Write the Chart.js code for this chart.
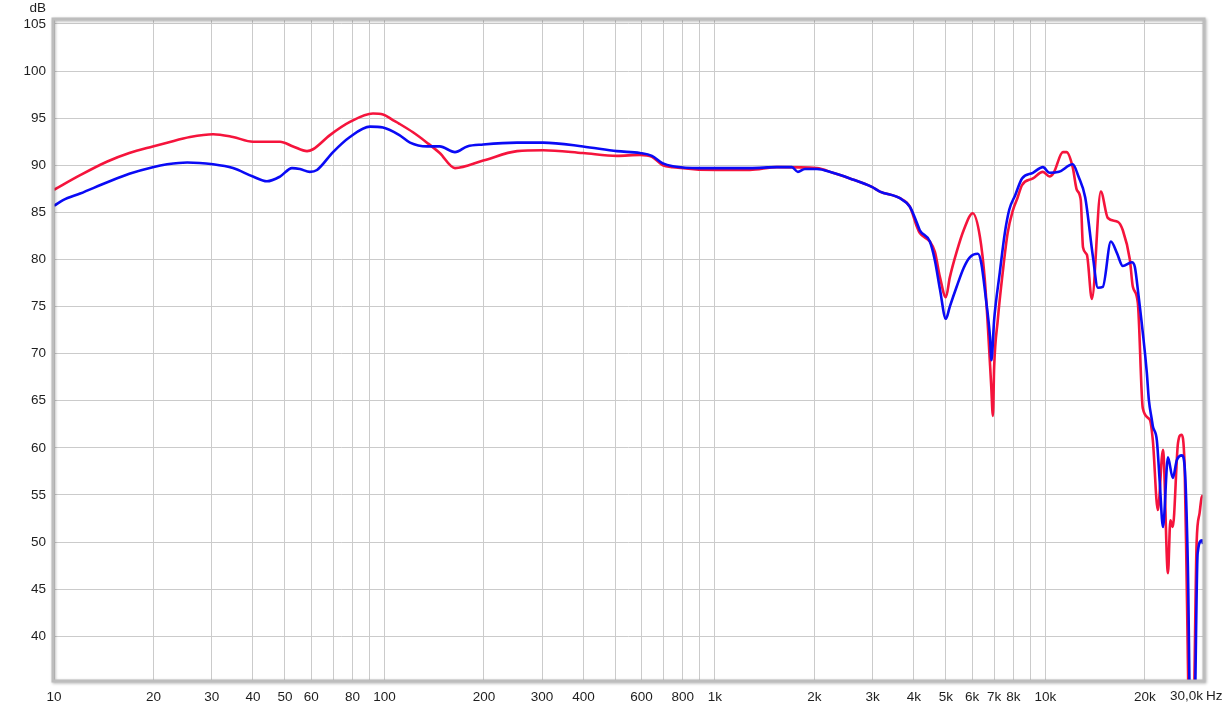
<!DOCTYPE html>
<html>
<head>
<meta charset="utf-8">
<script src="https://cdn.jsdelivr.net/npm/chart.js@4.4.1/dist/chart.umd.min.js"></script>
<style>
html,body{margin:0;padding:0;background:#ffffff;}
#wrap{width:1228px;height:709px;position:relative;}
</style>
</head>
<body>
<div id="wrap"><canvas id="c" width="1228" height="709"></canvas></div>
<script>
// ---- data ----
const freqBlue = [10, 10.65, 12, 14.5, 16.9, 19.9, 22, 25.3, 30.3, 34.8, 40, 44.1, 48.3, 52.5, 55.5, 59.5, 62.5, 69.9, 78.6, 90.4, 99, 111, 119.5, 134.5, 147, 163.5, 178, 199, 252, 302, 399, 505, 593, 645, 696, 746, 901, 1276, 1540, 1710, 1783, 1873, 2035, 2275, 2562, 2985, 3157, 3629, 3890, 4085, 4170, 4472, 4632, 4800, 5000, 5140, 5390, 5660, 5900, 6250, 6400, 6600, 6800, 6870, 7000, 7280, 7540, 7780, 8100, 8500, 9170, 9830, 10300, 11000, 12100, 12600, 13200, 13930, 14420, 14930, 15790, 16460, 17160, 18270, 18660, 19050, 20280, 20570, 21000, 21150, 21750, 22200, 22700, 23500, 24300, 25000, 25900, 26400, 27000, 27500, 28200, 28900, 29800, 30000];
const splBlue = [85.7, 86.3, 87.0, 88.2, 89.1, 89.8, 90.1, 90.3, 90.1, 89.7, 88.8, 88.3, 88.8, 89.7, 89.6, 89.3, 89.5, 91.4, 93.0, 94.1, 94.0, 93.2, 92.4, 92.0, 92.0, 91.4, 92.0, 92.2, 92.4, 92.4, 92.0, 91.5, 91.3, 91.0, 90.2, 89.9, 89.7, 89.7, 89.8, 89.8, 89.3, 89.6, 89.6, 89.2, 88.6, 87.7, 87.2, 86.5, 85.6, 83.9, 83.1, 81.9, 79.9, 76.8, 73.7, 75.0, 77.1, 79.1, 80.2, 80.6, 79.6, 76.0, 71.8, 69.3, 73.6, 78.6, 82.8, 85.3, 86.8, 88.6, 89.2, 89.8, 89.2, 89.3, 90.1, 88.8, 86.6, 80.3, 77.0, 77.1, 81.9, 80.7, 79.3, 79.7, 79.2, 76.8, 68.0, 65.1, 63.0, 62.3, 60.8, 56.3, 51.6, 59.0, 56.8, 58.7, 59.2, 58.0, 47.4, 30.0, 30.0, 48.8, 50.2, 49.8];

const freqRed = [10, 12, 14.5, 16.9, 19.9, 22, 25.8, 30.3, 34.8, 40, 48.3, 52.9, 58.3, 60.8, 68.4, 78.6, 92.3, 99, 106, 111, 122, 134.5, 147, 163.5, 199, 252, 302, 399, 505, 593, 645, 696, 746, 1014, 1276, 1540, 2035, 2275, 2562, 2985, 3157, 3629, 3890, 4085, 4170, 4472, 4632, 4800, 5000, 5140, 5390, 5660, 6030, 6340, 6560, 6710, 6860, 6940, 7000, 7180, 7430, 7690, 7990, 8230, 8500, 9170, 9830, 10300, 10600, 11300, 11600, 12100, 12450, 12800, 13000, 13360, 13830, 14720, 15460, 16580, 17160, 18020, 18400, 19050, 19720, 20700, 21150, 21900, 22700, 23500, 23900, 24300, 25200, 25800, 26400, 26800, 27300, 28000, 28700, 29300, 29700, 30000];
const splRed = [87.4, 88.95, 90.4, 91.3, 92.0, 92.4, 93.0, 93.3, 93.0, 92.5, 92.5, 92.0, 91.5, 91.7, 93.2, 94.6, 95.5, 95.4, 94.8, 94.4, 93.5, 92.4, 91.3, 89.7, 90.5, 91.5, 91.6, 91.3, 91.0, 91.1, 90.9, 90.0, 89.8, 89.5, 89.5, 89.8, 89.7, 89.2, 88.6, 87.7, 87.2, 86.5, 85.6, 83.5, 82.8, 81.9, 80.8, 78.1, 76.0, 78.1, 80.8, 83.1, 84.9, 82.4, 77.8, 72.5, 66.5, 63.4, 68.6, 73.6, 78.6, 82.8, 85.3, 86.5, 87.9, 88.6, 89.3, 88.8, 89.2, 91.4, 91.4, 89.8, 87.4, 86.3, 81.3, 80.5, 75.8, 87.2, 84.4, 84.0, 83.1, 80.0, 77.1, 75.4, 64.2, 63.0, 60.8, 53.4, 59.8, 46.7, 52.3, 51.6, 60.5, 61.4, 58.0, 45.0, 30.0, 30.0, 50.0, 53.1, 54.7, 55.0];

const xGridValues = [10,20,30,40,50,60,70,80,90,100,200,300,400,500,600,700,800,900,1000,2000,3000,4000,5000,6000,7000,8000,9000,10000,20000,30000];
const xLabelValues = [10,20,30,40,50,60,80,100,200,300,400,600,800,1000,2000,3000,4000,5000,6000,7000,8000,10000,20000,30000];
const xLabelTexts  = ['10','20','30','40','50','60','80','100','200','300','400','600','800','1k','2k','3k','4k','5k','6k','7k','8k','10k','20k','30,0k'];
const yTickValues = [40,45,50,55,60,65,70,75,80,85,90,95,100,105];
const xUnit = 'Hz';
const yUnit = 'dB';

// ---- styling ----
const FONT = {family: '"Liberation Sans", Arial, sans-serif', size: 13.5};
const TXT = '#1e1e1e';
const GRID = '#cbcbcb';

const toPts = (fx, fy) => fx.map((f, i) => ({x: f, y: fy[i]}));
const lastLabelValue = xLabelValues[xLabelValues.length - 1];

const decor = {
  id: 'decor',
  afterDatasetsDraw(chart) {
    const {ctx, chartArea: a, scales} = chart;
    ctx.save();
    ctx.shadowColor = 'rgba(0,0,0,0.3)';
    ctx.shadowBlur = 3;
    ctx.shadowOffsetX = 1;
    ctx.shadowOffsetY = 1;
    ctx.strokeStyle = '#bdbdbd';
    ctx.lineWidth = 3;
    ctx.strokeRect(a.left - 1, a.top - 1, a.right - a.left + 2, a.bottom - a.top + 2);
    ctx.restore();

    ctx.save();
    ctx.font = FONT.size + 'px ' + FONT.family;
    ctx.fillStyle = TXT;
    ctx.textBaseline = 'middle';
    ctx.textAlign = 'right';
    ctx.fillText(yUnit, a.left - 8, 8);
    const xs = scales.x;
    const px = xs.getPixelForValue(lastLabelValue);
    const ly = a.bottom + 16;
    ctx.textAlign = 'right';
    ctx.fillText(xLabelTexts[xLabelTexts.length - 1], px, ly);
    ctx.textAlign = 'left';
    ctx.fillText(xUnit, px + 3, ly);
    ctx.restore();
  }
};

new Chart(document.getElementById('c'), {
  type: 'line',
  data: {
    datasets: [
      {data: toPts(freqBlue, splBlue), borderColor: '#0a0af5', borderWidth: 2.6, pointRadius: 0, cubicInterpolationMode: 'monotone', fill: false},
      {data: toPts(freqRed, splRed), borderColor: '#f5143c', borderWidth: 2.6, pointRadius: 0, cubicInterpolationMode: 'monotone', fill: false}
    ]
  },
  options: {
    responsive: false,
    animation: false,
    devicePixelRatio: 1,
    layout: {padding: {top: 20, right: 25, bottom: 0, left: 0}},
    plugins: {legend: {display: false}, tooltip: {enabled: false}},
    scales: {
      x: {
        type: 'logarithmic',
        min: 10, max: 30000,
        afterBuildTicks: s => { s.ticks = xGridValues.map(v => ({value: v})); },
        afterFit: s => { s.height = 29; },
        ticks: {
          autoSkip: false, maxRotation: 0, minRotation: 0, padding: 9,
          font: FONT, color: TXT,
          callback: v => {
            const i = xLabelValues.indexOf(v);
            if (i < 0 || v === lastLabelValue) return '';
            return xLabelTexts[i];
          }
        },
        grid: {color: GRID, lineWidth: 1, drawTicks: false},
        border: {display: false}
      },
      y: {
        type: 'linear',
        min: 35.36, max: 105.42,
        afterBuildTicks: s => { s.ticks = yTickValues.map(v => ({value: v})); },
        afterFit: s => { s.width = 54; },
        ticks: {padding: 8, font: FONT, color: TXT, callback: v => String(v)},
        grid: {color: GRID, lineWidth: 1, drawTicks: false},
        border: {display: false}
      }
    }
  },
  plugins: [decor]
});
</script>
</body>
</html>
